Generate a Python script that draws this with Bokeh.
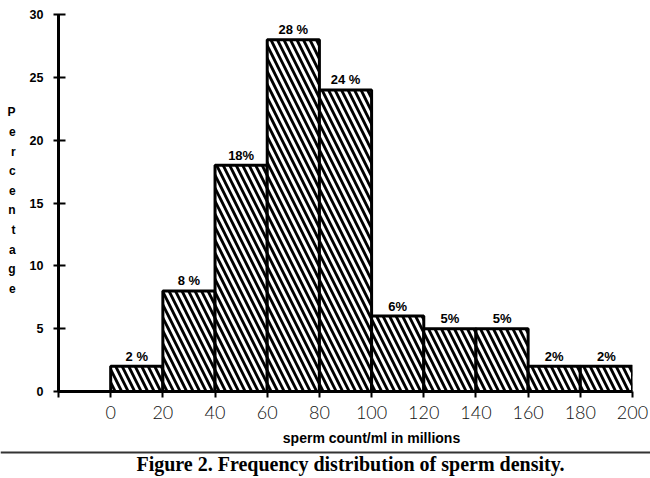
from bokeh.plotting import figure
from bokeh.models import Range1d, FixedTicker, ColumnDataSource
from bokeh.layouts import column
from bokeh.core.properties import value
from bokeh.embed import file_html
from bokeh.resources import INLINE

# ---- data ----
bin_edges = [0, 20, 40, 60, 80, 100, 120, 140, 160, 180, 200]
percentages = [2, 8, 18, 28, 24, 6, 5, 5, 2, 2]
bar_labels = ["2 %", "8 %", "18%", "28 %", "24 %", "6%", "5%", "5%", "2%", "2%"]
x_ticks = [-20, 0, 20, 40, 60, 80, 100, 120, 140, 160, 180, 200]
y_ticks = [0, 5, 10, 15, 20, 25, 30]
y_title = "Percentage"
x_title = "sperm count/ml in millions"
caption = "Figure 2. Frequency distribution of sperm density."

W = 650
H1 = 428
p = figure(width=W, height=H1, output_backend="svg", toolbar_location=None,
           x_range=Range1d(-20, 200), y_range=Range1d(0, 30.4),
           min_border_left=58, min_border_right=18, min_border_top=9, min_border_bottom=37)
p.outline_line_color = None
p.grid.visible = False
p.background_fill_color = "white"
p.border_fill_color = "white"

src = ColumnDataSource(dict(left=bin_edges[:-1], right=bin_edges[1:], top=percentages,
                            xc=[(a + b) / 2 for a, b in zip(bin_edges[:-1], bin_edges[1:])],
                            lab=bar_labels))
p.quad(left="left", right="right", bottom=0, top="top", source=src,
       fill_color="white", hatch_pattern="\\", hatch_color="black",
       hatch_weight=2.8, hatch_scale=13, line_color="black", line_width=3)
p.text(x="xc", y="top", text="lab", source=src, text_align="center",
       text_baseline="alphabetic", y_offset=-10, text_font=value("Liberation Sans"),
       text_font_style="bold", text_font_size="13px", text_color="black")

# axes
xa = p.xaxis[0]
xa.ticker = FixedTicker(ticks=x_ticks)
xa.major_label_overrides = {-20: ""}
xa.bounds = (-20, 200)
xa.axis_line_width = 3
xa.major_tick_line_width = 2
xa.major_tick_in = 0
xa.major_tick_out = 6
xa.minor_tick_line_color = None
xa.major_label_standoff = 8
xa.major_label_text_font = "Lato Light"
xa.major_label_text_font_size = "18px"
xa.major_label_text_color = "#111111"

ya = p.yaxis[0]
ya.ticker = FixedTicker(ticks=y_ticks)
ya.bounds = (0, 30)
ya.axis_line_width = 3
ya.major_tick_line_width = 2
ya.major_tick_in = 7
ya.major_tick_out = 5
ya.minor_tick_line_color = None
ya.major_label_standoff = 10
ya.major_label_text_font = "Liberation Sans"
ya.major_label_text_font_style = "bold"
ya.major_label_text_font_size = "12.5px"
ya.major_label_text_color = "black"
ya.axis_label = "\n".join(y_title)
ya.axis_label_orientation = "horizontal"
ya.axis_label_standoff = 11
ya.axis_label_text_font = "Liberation Sans"
ya.axis_label_text_font_style = "bold"
ya.axis_label_text_font_size = "12px"
ya.axis_label_text_line_height = 1.4
ya.axis_label_text_color = "black"

# x title, rule and caption strip
H2 = 49
p2 = figure(width=W, height=H2, output_backend="svg", toolbar_location=None,
            x_range=Range1d(0, W), y_range=Range1d(H2, 0),
            min_border_left=0, min_border_right=0, min_border_top=0, min_border_bottom=0)
try:
    p2.frame_align = False
except AttributeError:
    pass
p2.axis.visible = False
p2.grid.visible = False
p2.outline_line_color = None
p2.text(x=[371], y=[9], text=[x_title], text_align="center", text_baseline="middle",
        text_font=value("Liberation Sans"), text_font_style="bold",
        text_font_size="14px", text_color="black")
p2.segment(x0=[0], y0=[24], x1=[W], y1=[24], line_color="#333333", line_width=2)
p2.text(x=[350], y=[35], text=[caption], text_align="center", text_baseline="middle",
        text_font=value("Liberation Serif"), text_font_style="bold",
        text_font_size="20px", text_color="black")

layout = column(p, p2, spacing=0)
open("out.html", "w").write(file_html(layout, INLINE))
